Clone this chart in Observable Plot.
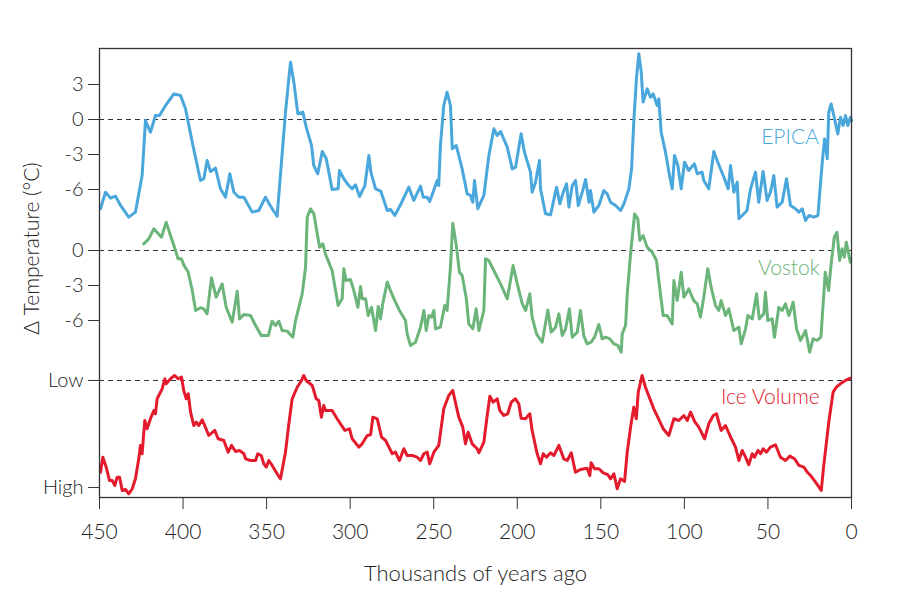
<!DOCTYPE html>
<html>
<head>
<meta charset="utf-8">
<script src="https://cdn.jsdelivr.net/npm/d3@7"></script>
<script src="https://cdn.jsdelivr.net/npm/@observablehq/plot@0.6"></script>
<style>
  html, body { margin: 0; padding: 0; background: #fff; }
  #chart svg { display: block; }
</style>
</head>
<body>
<div id="chart"></div>
<script>
// ---- Data (age in thousands of years ago) ----
// EPICA: temperature anomaly (°C)
const epica = [
  [449.4,-7.65],[446.4,-6.23],[443.4,-6.74],[440.4,-6.57],[437.4,-7.37],[432.5,-8.37],[428.5,-7.94],
  [424.5,-4.8],[422.5,-0.09],[419.5,-1.09],[416.5,0.34],[414.1,0.34],[410.5,1.2],[405.5,2.2],
  [401.5,2.06],[398.5,0.91],[394.5,-1.94],[389.6,-5.23],[387.6,-5.08],[385.6,-3.51],[383.6,-4.46],
  [380.6,-4.17],[377.6,-5.94],[374.6,-6.66],[372.0,-4.65],[369.6,-6.23],[366.6,-6.66],[363.6,-6.66],
  [358.6,-7.94],[354.7,-7.8],[350.7,-6.66],[346.7,-7.65],[343.7,-8.29],[338.7,0.63],[335.7,4.91],
  [333.7,3.2],[331.3,0.49],[328.3,0.63],[326.3,-0.66],[323.1,-2.23],[321.8,-3.94],[319.4,-4.65],
  [316.7,-2.74],[314.3,-3.37],[310.8,-6.0],[307.2,-5.94],[306.4,-4.37],[303.8,-5.08],[300.8,-5.66],
  [298.8,-5.94],[296.8,-5.6],[294.4,-6.6],[291.2,-5.66],[288.8,-3.09],[287.6,-4.51],[284.8,-5.94],
  [281.7,-6.14],[277.8,-7.8],[275.8,-7.71],[273.3,-8.23],[269.5,-7.2],[264.9,-5.8],[261.9,-6.94],
  [257.9,-5.71],[256.3,-6.66],[253.9,-6.66],[252.4,-7.03],[247.9,-5.23],[247.0,-5.66],[246.0,-2.23],
  [244.0,1.2],[242.0,2.34],[240.0,1.2],[238.9,-2.51],[236.5,-2.23],[233.0,-4.23],[230.0,-6.37],
  [228.0,-6.51],[226.6,-7.09],[225.6,-5.23],[223.6,-7.65],[220.0,-6.51],[217.0,-3.09],[214.0,-0.8],
  [212.0,-1.37],[210.0,-1.03],[206.0,-2.37],[203.0,-4.23],[201.0,-4.08],[197.7,-1.23],[195.7,-2.8],
  [192.1,-4.51],[191.1,-6.23],[189.1,-5.37],[186.7,-3.51],[186.1,-5.94],[183.1,-8.08],[180.1,-8.17],
  [176.5,-5.8],[174.5,-7.23],[172.5,-6.23],[170.5,-5.51],[169.1,-7.51],[167.1,-5.66],[165.1,-5.23],
  [163.5,-7.37],[161.1,-6.23],[159.1,-5.14],[157.1,-7.09],[156.2,-6.09],[154.2,-7.94],[151.2,-7.37],
  [148.2,-6.09],[146.2,-6.37],[144.2,-7.09],[141.2,-7.37],[138.2,-7.8],[136.2,-7.23],[133.2,-5.94],
  [131.6,-4.23],[130.3,-0.23],[128.7,3.49],[127.3,5.63],[125.9,4.2],[124.7,1.49],[122.3,2.63],
  [120.3,1.91],[118.7,2.2],[116.3,1.2],[115.3,1.77],[113.9,-1.09],[111.3,-2.8],[108.9,-4.8],
  [107.3,-5.94],[105.9,-3.09],[103.9,-3.94],[101.9,-5.94],[99.9,-3.66],[97.4,-4.37],[94.0,-3.8],
  [92.3,-4.65],[89.4,-4.51],[88.4,-5.23],[85.4,-5.94],[82.4,-2.74],[80.0,-3.66],[76.4,-4.94],
  [73.8,-5.94],[72.4,-3.94],[70.4,-6.23],[68.4,-5.37],[67.4,-8.51],[64.4,-8.08],[62.5,-7.8],
  [60.4,-5.94],[57.5,-4.51],[55.5,-7.09],[52.9,-4.46],[50.5,-6.94],[48.5,-6.23],[46.5,-4.8],
  [44.5,-7.51],[41.5,-7.09],[38.9,-5.08],[36.5,-7.37],[33.5,-7.65],[31.5,-7.94],[29.5,-7.65],
  [27.5,-8.66],[25.5,-8.23],[22.5,-8.37],[20.1,-8.23],[17.5,-3.66],[16.1,-1.66],[14.5,-3.37],
  [13.6,0.63],[12.2,1.34],[10.6,0.34],[8.2,-1.23],[6.6,0.2],[5.0,-0.51],[3.6,0.34],[2.2,-0.51],
  [0.6,0.2],[0,-0.09]
];

// Vostok: temperature anomaly (°C)
const vostok = [
  [423.5,0.57],[420.5,1.0],[417.5,1.86],[412.9,1.14],[410.1,2.43],[407.5,1.29],[404.5,0],[403,-0.71],
  [401,-0.71],[399.6,-1.23],[396.9,-1.86],[394.5,-3.43],[392.5,-5.14],[389.6,-4.91],[387.6,-5.0],
  [385.6,-5.43],[383,-2.34],[380.2,-4.0],[376.6,-2.86],[374.2,-4.86],[370.6,-6.14],[367.6,-3.49],
  [366.2,-5.86],[363.6,-5.49],[359.6,-5.57],[356.6,-6.43],[353.2,-7.29],[349,-7.29],[346.7,-6.06],
  [344.7,-6.43],[342.7,-6.06],[340.7,-6.86],[337.7,-6.91],[334.3,-7.43],[332.7,-6.0],[328.7,-3.71],
  [326.7,-1.43],[325.7,2.86],[323.7,3.57],[321.7,3.14],[319.7,1.43],[318.3,0.29],[316.4,0.57],
  [314.8,-0.29],[310.8,-1.71],[307.2,-4.71],[304.8,-4.14],[303.8,-1.57],[302.4,-2.57],[299.8,-2.49],
  [297.8,-3.43],[295.4,-4.86],[293.8,-3.09],[292.8,-4.14],[290.8,-4.14],[289.2,-5.57],[287.2,-4.86],
  [284.8,-6.86],[283.2,-4.8],[281.8,-5.86],[280.5,-4.57],[277.8,-2.71],[275.9,-3.43],[273.3,-4.29],
  [270.5,-5.14],[266.9,-6.0],[265.9,-7.14],[263.9,-8.14],[260.9,-7.86],[257.9,-6.57],[255.9,-5.14],
  [254.5,-6.86],[252.9,-5.57],[251.3,-5.71],[249.9,-5.14],[248.9,-6.71],[246,-6.57],[243.4,-4.71],
  [242,-5.14],[240,-1.43],[238.6,2.34],[236.6,0.57],[234.6,-1.86],[233,-2.14],[230.6,-4.0],
  [229,-6.29],[226.6,-6.71],[224.6,-5.0],[223,-6.86],[220,-5.14],[219,-0.71],[217,-0.86],[215,-1.43],
  [210,-2.86],[206,-4.14],[202.5,-1.29],[200,-2.86],[197,-4.57],[195,-5.14],[192.5,-3.71],
  [191.1,-5.71],[188.5,-7.14],[185.1,-7.86],[181.7,-5.09],[179.7,-7.0],[177.1,-6.57],[175.1,-5.43],
  [173.1,-7.29],[171.1,-6.71],[168.8,-5.0],[167.1,-7.43],[164.1,-7.0],[162.2,-5.14],[160.2,-7.29],
  [158.2,-8.0],[155.8,-7.86],[153.8,-7.43],[151.2,-6.34],[149.2,-7.57],[147.2,-7.43],[144.6,-7.57],
  [142.2,-8.0],[139.8,-8.14],[137.8,-8.71],[137.2,-7.14],[135.2,-6.43],[134.2,-3.71],[132.2,-0.29],
  [129.8,3.14],[127.9,2.71],[126.7,0.86],[124.7,1.29],[122.3,0.29],[119.3,-0.14],[116.7,-0.86],
  [115.3,-2.57],[112.7,-5.57],[110.3,-5.57],[107.3,-6.29],[106.3,-2.57],[104.3,-4.29],[101.9,-1.86],
  [100.3,-4.0],[97.4,-3.29],[94.4,-4.29],[92.3,-4.57],[90.4,-5.71],[88.4,-4.0],[86,-1.57],[84,-3.14],
  [81.4,-4.71],[79.4,-5.14],[78,-4.29],[75.4,-5.57],[73.4,-5.0],[70.4,-6.86],[67.4,-6.57],[66,-8.0],
  [63.4,-6.71],[62,-5.57],[59.4,-5.86],[56.8,-3.71],[55.2,-5.86],[52.5,-5.43],[51.5,-3.57],[50.1,-6.0],
  [47.5,-5.86],[46.1,-7.43],[43.5,-4.86],[41.5,-5.14],[39.5,-4.57],[37.5,-5.57],[34.9,-4.43],
  [32.9,-6.71],[30.5,-7.71],[27.5,-6.86],[25,-8.71],[23,-7.57],[20.6,-7.71],[18.3,-7.43],[17.1,-4.86],
  [15.7,-1.86],[13.7,-3.43],[12.3,-1.29],[10.3,1.14],[8.7,1.57],[7.1,-0.86],[5.6,0.14],[4.3,-0.57],
  [3.1,0.71],[1.7,-0.29],[0.7,-1.0]
];

// Ice volume, relative index (1 = Low, 0 = High)
const iceVolume = [
  [449.4,0.143],[448,0.283],[446,0.19],[444,0.065],[442.4,0.065],[440.8,0.019],[439.4,0.096],
  [438,0.096],[436.4,-0.028],[434.4,-0.019],[432.5,-0.059],[430.4,-0.012],[428.5,0.081],[426.5,0.268],
  [425.5,0.393],[424.5,0.315],[422.9,0.626],[421.5,0.549],[419.5,0.642],[417.5,0.72],[416.5,0.689],
  [415.5,0.829],[412.5,0.922],[410.9,1.016],[410.1,0.969],[407.5,1.016],[405.1,1.047],[402.9,1.016],
  [400.9,1.031],[399.6,0.907],[398.1,0.829],[396.9,0.876],[395.5,0.704],[393.6,0.579],[392.1,0.61],
  [390.6,0.579],[388.5,0.633],[384.6,0.486],[381,0.533],[379,0.455],[375.6,0.439],[373,0.33],
  [371,0.393],[368.6,0.336],[366.2,0.346],[363.6,0.315],[362.6,0.268],[359.6,0.252],[356.6,0.252],
  [355.3,0.315],[353.2,0.299],[351.7,0.221],[350.2,0.19],[348.7,0.252],[346.7,0.206],[343.7,0.128],
  [341.7,0.081],[338.7,0.33],[336.7,0.595],[334.7,0.829],[331.7,0.937],[329.1,1.0],[327.8,1.047],
  [326.3,1.0],[322.7,0.953],[320.3,0.829],[318.8,0.813],[317.2,0.657],[315.8,0.766],[314.8,0.72],
  [310.8,0.72],[307.8,0.642],[303.2,0.533],[300.4,0.548],[298.8,0.455],[294.8,0.377],[292.8,0.408],
  [289.8,0.486],[287.8,0.492],[286.4,0.657],[283.8,0.642],[281.2,0.47],[278.8,0.439],[276.8,0.377],
  [274.8,0.315],[272.9,0.33],[270.5,0.252],[267.9,0.362],[265.9,0.299],[262.9,0.299],[259.9,0.283],
  [257.9,0.252],[255.9,0.315],[253.9,0.33],[252.4,0.221],[249.9,0.33],[247,0.393],[244,0.735],
  [241,0.86],[238.6,0.907],[236.6,0.766],[235,0.657],[232.6,0.564],[231,0.408],[229.4,0.517],
  [227,0.408],[224,0.362],[223,0.324],[220,0.423],[218,0.673],[216.4,0.853],[214.4,0.797],[212,0.829],
  [210.5,0.72],[208.1,0.673],[205.7,0.689],[203.6,0.797],[201.1,0.829],[199.1,0.782],[197.7,0.648],
  [195.1,0.642],[192.5,0.689],[191.1,0.533],[188.1,0.315],[186.1,0.221],[184.5,0.315],[182.5,0.283],
  [180.1,0.324],[178.1,0.299],[175.1,0.393],[172.2,0.268],[170.1,0.252],[167.7,0.324],[165.2,0.143],
  [162.2,0.168],[158.2,0.18],[156.6,0.112],[155.8,0.231],[153.8,0.175],[151.2,0.175],[148.6,0.137],
  [145.8,0.119],[144.2,0.081],[142.2,0.128],[140.2,-0.012],[138.2,0.081],[135.8,0.056],[134.2,0.33],
  [132.2,0.564],[130.3,0.75],[128.8,0.642],[127.6,0.891],[125.3,1.047],[123.3,0.937],[118.3,0.735],
  [112.7,0.549],[109.3,0.486],[106.3,0.642],[103.3,0.626],[100.3,0.673],[98.3,0.626],[96.3,0.704],
  [93.9,0.617],[91.4,0.564],[87.9,0.455],[85.4,0.595],[82.7,0.673],[80.8,0.689],[78,0.533],
  [75.4,0.579],[72.8,0.486],[69.4,0.377],[67.4,0.252],[65.4,0.346],[63.4,0.283],[61.5,0.212],
  [59.4,0.315],[58,0.283],[56,0.346],[54.4,0.315],[52.8,0.362],[50.9,0.33],[48.5,0.377],[45.5,0.399],
  [42.5,0.283],[39.5,0.252],[36.9,0.293],[34.1,0.268],[31.5,0.206],[28.5,0.19],[26.5,0.143],
  [24.5,0.112],[21.5,0.05],[18.1,-0.028],[16.6,0.206],[13.6,0.61],[11,0.891],[9.1,0.937],[6.7,0.969],
  [3.6,1.0],[0.6,1.021]
];

const xTicks = [450, 400, 350, 300, 250, 200, 150, 100, 50, 0];
const epicaTicks = [3, 0, -3, -6];
const vostokTicks = [0, -3, -6];
const iceTickLabels = ["Low", "High"];
const seriesNames = ["EPICA", "Vostok", "Ice Volume"];
const colors = ["#4aa7dc", "#6bb57b", "#e31b2d"];

// ---- Layout of the stacked panels on a shared vertical scale (°C units) ----
const VOSTOK_SHIFT = -11.23;   // Vostok 0 sits this far below EPICA 0
const ICE_LOW = -22.37;        // position of "Low"
const ICE_HIGH = -31.54;       // position of "High"
const iceY = n => ICE_HIGH + n * (ICE_LOW - ICE_HIGH);

const rows = [
  ...epica.map(([t, v]) => ({t, y: v, s: seriesNames[0]})),
  ...vostok.map(([t, v]) => ({t, y: v + VOSTOK_SHIFT, s: seriesNames[1]})),
  ...iceVolume.map(([t, n]) => ({t, y: iceY(n), s: seriesNames[2]}))
];

const yTickPos = [...epicaTicks, ...vostokTicks.map(v => v + VOSTOK_SHIFT), ICE_LOW, ICE_HIGH];
const yTickText = [...epicaTicks.map(String), ...vostokTicks.map(String), ...iceTickLabels];
const tickLabel = new Map(yTickPos.map((p, i) => [p, yTickText[i]]));
const zeroLines = [0, VOSTOK_SHIFT, ICE_LOW];

const labels = [
  {t: 19.5, y: -1.55, s: seriesNames[0]},
  {t: 19.0, y: -1.55 + VOSTOK_SHIFT, s: seriesNames[1]},
  {t: 19.0, y: iceY(0.84), s: seriesNames[2]}
];

const FONT = "Lato, 'Open Sans', sans-serif";

const chart = Plot.plot({
  width: 900,
  height: 600,
  marginLeft: 99,
  marginRight: 49,
  marginTop: 48,
  marginBottom: 103,
  style: {fontFamily: FONT, fontSize: "20px", fontWeight: 300, color: "#222", background: "#fff"},
  x: {domain: [450, 0]},
  y: {domain: [-32.4, 6.086]},
  color: {domain: seriesNames, range: colors},
  marks: [
    Plot.ruleY(zeroLines, {stroke: "#333", strokeWidth: 1.2, strokeDasharray: "5,4"}),
    Plot.line(rows, {x: "t", y: "y", z: "s", stroke: "s", strokeWidth: 3, strokeLinejoin: "round", strokeLinecap: "round"}),
    Plot.frame({stroke: "#333", strokeWidth: 1.3}),
    Plot.axisX({ticks: xTicks, tickSize: 12, tickPadding: 15, fontSize: 21, label: null, stroke: "#333"}),
    Plot.axisY({ticks: yTickPos, tickFormat: d => tickLabel.get(d), tickSize: 11, tickPadding: 5, fontSize: 20, label: null, stroke: "#333"}),
    Plot.text(labels, {x: "t", y: "y", text: "s", fill: "s", textAnchor: "end", fontSize: 21}),
    Plot.text(["Thousands of years ago"], {frameAnchor: "bottom", dy: 83, fontSize: 22, fill: "#222"}),
    Plot.text(["Δ Temperature (°C)"], {y: [-11.06], frameAnchor: "left", dx: -67, rotate: -90, textAnchor: "middle", fontSize: 21, fill: "#222"})
  ]
});

document.getElementById("chart").appendChild(chart);
</script>
</body>
</html>
